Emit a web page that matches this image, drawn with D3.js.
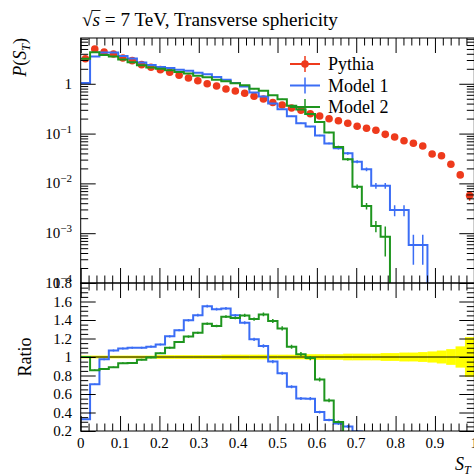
<!DOCTYPE html>
<html>
<head>
<meta charset="utf-8">
<script src="https://cdn.jsdelivr.net/npm/d3@7"></script>
<style>
body { margin: 0; background: #fff; }
svg text { font-family: "Liberation Serif", "DejaVu Serif", serif; fill: #000; }
</style>
</head>
<body>
<svg width="474" height="475"></svg>
<script>
///////////////////////////////////////////
// Data (transverse sphericity, 42 equal bins on [0,1])
var nBins = 42;
var binEdges = d3.range(nBins + 1).map(function(k) { return k / nBins; });

var pythia = [3.19, 5.00, 4.35, 3.97, 3.30, 2.91, 2.42, 2.14, 1.92, 1.70,
  1.48, 1.31, 1.15, 1.00, 0.903, 0.787, 0.717, 0.645, 0.561, 0.495,
  0.421, 0.375, 0.327, 0.294, 0.251, 0.226, 0.198, 0.181, 0.161, 0.140,
  0.128, 0.117, 0.0964, 0.0855, 0.0717, 0.0638, 0.0564, 0.0389, 0.0358, 0.0243,
  0.0148, 0.0057];
// relative uncertainties
var pythiaErr = [0.015, 0.015, 0.015, 0.015, 0.015, 0.015, 0.015, 0.015, 0.02, 0.02,
  0.02, 0.02, 0.02, 0.02, 0.02, 0.025, 0.025, 0.025, 0.025, 0.025,
  0.025, 0.025, 0.025, 0.025, 0.03, 0.03, 0.03, 0.03, 0.036, 0.036,
  0.036, 0.036, 0.042, 0.042, 0.048, 0.048, 0.053, 0.06, 0.07, 0.085,
  0.115, 0.215];

var model1 = [1.04, 3.53, 4.24, 4.25, 3.60, 3.20, 2.66, 2.38, 2.18, 2.08,
  1.91, 1.83, 1.67, 1.55, 1.37, 1.20, 1.04, 0.884, 0.668, 0.554,
  0.400, 0.309, 0.222, 0.162, 0.138, 0.0915, 0.0634, 0.0507, 0.0402, 0.0273,
  0.0192, 0.0090, 0.0090, 0.00292, 0.00292, 0.00058, 0.00058, 0, 0, 0,
  0, 0];
var model1Err = [0.01, 0.01, 0.01, 0.01, 0.01, 0.01, 0.01, 0.01, 0.01, 0.01,
  0.01, 0.01, 0.01, 0.01, 0.01, 0.01, 0.01, 0.012, 0.014, 0.016,
  0.018, 0.02, 0.024, 0.028, 0.03, 0.036, 0.042, 0.05, 0.06, 0.07,
  0.09, 0.13, 0.13, 0.25, 0.25, 0.6, 0.6, 0, 0, 0,
  0, 0];

var model2 = [3.19, 4.28, 3.78, 3.53, 3.08, 2.72, 2.35, 2.13, 2.00, 1.87,
  1.72, 1.60, 1.45, 1.36, 1.205, 1.13, 1.02, 0.935, 0.791, 0.723,
  0.585, 0.491, 0.363, 0.303, 0.248, 0.171, 0.105, 0.054, 0.0305, 0.0086,
  0.00352, 0.00140, 0.00085, 0, 0, 0, 0, 0, 0, 0,
  0, 0];
var model2Err = [0.01, 0.01, 0.01, 0.01, 0.01, 0.01, 0.01, 0.01, 0.01, 0.01,
  0.01, 0.01, 0.01, 0.01, 0.01, 0.01, 0.01, 0.012, 0.013, 0.014,
  0.015, 0.017, 0.02, 0.022, 0.024, 0.03, 0.038, 0.05, 0.065, 0.1,
  0.15, 0.25, 0.6, 0, 0, 0, 0, 0, 0, 0,
  0, 0];

var xTickLabels = ["0", "0.1", "0.2", "0.3", "0.4", "0.5", "0.6", "0.7", "0.8", "0.9", "1"];
var ratioTickLabels = ["0.2", "0.4", "0.6", "0.8", "1", "1.2", "1.4", "1.6", "1.8"];
var legendNames = ["Pythia", "Model 1", "Model 2"];

///////////////////////////////////////////
// Layout
var colRed = "#ee3a1c", colBlue = "#3b6df5", colGreen = "#1e951e";
var left = 80.7, right = 474.3,
    mainTop = 38, mainBot = 283, ratBot = 431;

var x = d3.scaleLinear().domain([0, 1]).range([left, right]);
var y = d3.scaleLog().domain([1e-4, 8.3]).range([mainBot, mainTop]);
var yr = d3.scaleLinear().domain([0.2, 1.8]).range([ratBot, mainBot]);

var svg = d3.select("svg");
var defs = svg.append("defs");
defs.append("clipPath").attr("id", "clipMain").append("rect")
  .attr("x", left).attr("y", mainTop).attr("width", right - left).attr("height", mainBot - mainTop);
defs.append("clipPath").attr("id", "clipRatio").append("rect")
  .attr("x", left).attr("y", mainBot).attr("width", right - left).attr("height", ratBot - mainBot);

var bins = pythia.map(function(p, i) {
  return {lo: binEdges[i], hi: binEdges[i + 1], mid: (binEdges[i] + binEdges[i + 1]) / 2,
          p: p, pe: pythiaErr[i]};
});

function stepPoints(vals, yf, floorY) {
  var pts = [];
  vals.forEach(function(v, i) {
    var yy = v > 0 ? yf(v) : floorY;
    pts.push([x(binEdges[i]), yy], [x(binEdges[i + 1]), yy]);
  });
  return pts;
}
var line = d3.line();

///////////////////////////////////////////
// Main panel
var gMain = svg.append("g").attr("clip-path", "url(#clipMain)");

// Pythia points
gMain.selectAll("line.perr").data(bins).enter().append("line")
  .attr("x1", function(d) { return x(d.mid); }).attr("x2", function(d) { return x(d.mid); })
  .attr("y1", function(d) { return y(d.p * (1 + d.pe)); })
  .attr("y2", function(d) { return y(d.p * (1 - d.pe)); })
  .attr("stroke", colRed).attr("stroke-width", 1.5);
gMain.selectAll("circle.pt").data(bins).enter().append("circle")
  .attr("cx", function(d) { return x(d.mid); })
  .attr("cy", function(d) { return y(d.p); })
  .attr("r", 3.8).attr("fill", colRed);

function drawModel(vals, errs, col) {
  gMain.append("path").attr("d", line(stepPoints(vals, y, mainBot + 20)))
    .attr("fill", "none").attr("stroke", col).attr("stroke-width", 2);
  vals.forEach(function(v, i) {
    if (v <= 0) return;
    var m = x((binEdges[i] + binEdges[i + 1]) / 2);
    var lo = v * (1 - errs[i]);
    gMain.append("line").attr("x1", m).attr("x2", m)
      .attr("y1", y(v * (1 + errs[i]))).attr("y2", lo > 0 ? y(lo) : mainBot + 5)
      .attr("stroke", col).attr("stroke-width", 1.5);
  });
}
drawModel(model1, model1Err, colBlue);
drawModel(model2, model2Err, colGreen);

///////////////////////////////////////////
// Ratio panel
var gRat = svg.append("g").attr("clip-path", "url(#clipRatio)");
gRat.selectAll("rect.band").data(bins).enter().append("rect")
  .attr("x", function(d) { return x(d.lo); })
  .attr("width", function(d) { return x(d.hi) - x(d.lo) + 0.3; })
  .attr("y", function(d) { return yr(1 + d.pe); })
  .attr("height", function(d) { return yr(1 - d.pe) - yr(1 + d.pe); })
  .attr("fill", "#ffff00");
gRat.append("line").attr("x1", left).attr("x2", right)
  .attr("y1", yr(1)).attr("y2", yr(1)).attr("stroke", "#000").attr("stroke-width", 1);

function drawRatio(vals, errs, col) {
  var r = vals.map(function(v, i) { return v / pythia[i]; });
  gRat.append("path").attr("d", line(stepPoints(r, yr, ratBot + 20)))
    .attr("fill", "none").attr("stroke", col).attr("stroke-width", 2);
  r.forEach(function(v, i) {
    if (v <= 0) return;
    var m = x((binEdges[i] + binEdges[i + 1]) / 2);
    gRat.append("line").attr("x1", m).attr("x2", m)
      .attr("y1", yr(v * (1 + errs[i]))).attr("y2", yr(v * (1 - errs[i])))
      .attr("stroke", col).attr("stroke-width", 1.5);
  });
}
drawRatio(model1, model1Err, colBlue);
drawRatio(model2, model2Err, colGreen);

///////////////////////////////////////////
// Frames and ticks
[[mainTop, mainBot], [mainBot, ratBot]].forEach(function(p) {
  svg.append("rect").attr("x", left).attr("y", p[0])
    .attr("width", right - left).attr("height", p[1] - p[0])
    .attr("fill", "none").attr("stroke", "#000").attr("stroke-width", 1);
});

var xMajor = d3.range(0, 11).map(function(i) { return i / 10; });
var xMinor = d3.range(0, 51).map(function(i) { return i / 50; })
  .filter(function(v, i) { return i % 5 !== 0; });
var logMajor = [1e-4, 1e-3, 1e-2, 1e-1, 1];
var logMinor = [];
logMajor.forEach(function(d) {
  for (var k = 2; k <= 9; k++) if (d * k < 8.3) logMinor.push(d * k);
});
var rMajor = [0.2, 0.4, 0.6, 0.8, 1, 1.2, 1.4, 1.6, 1.8];
var rMinor = d3.range(4, 37).map(function(i) { return i / 20; })
  .filter(function(v, i) { return i % 4 !== 0; });

function ticks(axis, tx, ty, vals, size) {
  var g = svg.append("g").attr("transform", "translate(" + tx + "," + ty + ")")
    .call(axis.tickValues(vals).tickSize(size).tickFormat(""));
  g.select(".domain").remove();
  g.selectAll(".tick line").attr("stroke", "#000").attr("stroke-width", 1);
}
ticks(d3.axisTop(x), 0, mainTop, xMajor, -15);
ticks(d3.axisTop(x), 0, mainTop, xMinor, -7.5);
ticks(d3.axisBottom(x), 0, mainBot, xMajor, -15);
ticks(d3.axisBottom(x), 0, mainBot, xMinor, -7.5);
ticks(d3.axisTop(x), 0, mainBot, xMajor, -15);
ticks(d3.axisTop(x), 0, mainBot, xMinor, -7.5);
ticks(d3.axisBottom(x), 0, ratBot, xMajor, -15);
ticks(d3.axisBottom(x), 0, ratBot, xMinor, -7.5);
ticks(d3.axisLeft(y), left, 0, logMajor, -15);
ticks(d3.axisLeft(y), left, 0, logMinor, -7.5);
ticks(d3.axisRight(y), right, 0, logMajor, -15);
ticks(d3.axisRight(y), right, 0, logMinor, -7.5);
ticks(d3.axisLeft(yr), left, 0, rMajor, -15);
ticks(d3.axisLeft(yr), left, 0, rMinor, -7.5);
ticks(d3.axisRight(yr), right, 0, rMajor, -15);
ticks(d3.axisRight(yr), right, 0, rMinor, -7.5);

///////////////////////////////////////////
// Tick labels
var fs = 15;
svg.selectAll("text.xl").data(xTickLabels).enter().append("text")
  .attr("x", function(d, i) { return x(xMajor[i]); }).attr("y", 448)
  .attr("text-anchor", "middle").attr("font-size", fs).text(function(d) { return d; });

svg.selectAll("text.rl").data(ratioTickLabels).enter().append("text")
  .attr("x", 72).attr("y", function(d, i) { return yr(rMajor[i]) + 5; })
  .attr("text-anchor", "end").attr("font-size", fs).text(function(d) { return d; });

logMajor.forEach(function(v) {
  var e = Math.round(Math.log10(v));
  var t = svg.append("text").attr("x", 72).attr("y", y(v) + 5)
    .attr("text-anchor", "end").attr("font-size", fs);
  if (e === 0) { t.text("1"); return; }
  t.append("tspan").text("10");
  t.append("tspan").attr("dy", -6).attr("font-size", 11).text("\u2212" + (-e));
});

///////////////////////////////////////////
// Titles and axis labels
var tfs = 19.2, tx0 = 82, ty0 = 26;
var rad = svg.append("text").attr("x", tx0).attr("y", ty0).attr("font-size", tfs).text("\u221A");
var wRad = rad.node().getComputedTextLength();
var sTxt = svg.append("text").attr("x", tx0 + wRad).attr("y", ty0).attr("font-size", tfs)
  .attr("font-style", "italic").text("s");
var wS = sTxt.node().getComputedTextLength();
svg.append("line").attr("x1", tx0 + wRad - 1).attr("x2", tx0 + wRad + wS + 0.5)
  .attr("y1", 10.5).attr("y2", 10.5).attr("stroke", "#000").attr("stroke-width", 0.9);
svg.append("text").attr("x", tx0 + wRad + wS).attr("y", ty0).attr("font-size", tfs)
  .text(" = 7 TeV, Transverse sphericity").attr("xml:space", "preserve");

var yl = svg.append("text").attr("transform", "translate(26," + mainTop + ") rotate(-90)")
  .attr("text-anchor", "end").attr("font-size", 18);
yl.append("tspan").attr("font-style", "italic").text("P");
yl.append("tspan").text("(");
yl.append("tspan").attr("font-style", "italic").text("S");
yl.append("tspan").attr("font-style", "italic").attr("font-size", 12).attr("dy", 4).text("T");
yl.append("tspan").attr("dy", -4).text(")");

svg.append("text").attr("transform", "translate(31," + yr(1) + ") rotate(-90)")
  .attr("text-anchor", "middle").attr("font-size", 18).text("Ratio");

var xl = svg.append("text").attr("x", 455).attr("y", 470).attr("font-size", 18);
xl.append("tspan").attr("font-style", "italic").text("S");
xl.append("tspan").attr("font-style", "italic").attr("font-size", 12).attr("dy", 4).text("T");

///////////////////////////////////////////
// Legend
var legCols = [colRed, colBlue, colGreen];
var leg = svg.append("g");
legendNames.forEach(function(name, i) {
  var cy = 64 + i * 21.5;
  leg.append("line").attr("x1", 290).attr("x2", 320).attr("y1", cy).attr("y2", cy)
    .attr("stroke", legCols[i]).attr("stroke-width", 2);
  leg.append("line").attr("x1", 305).attr("x2", 305).attr("y1", cy - 8).attr("y2", cy + 8)
    .attr("stroke", legCols[i]).attr("stroke-width", 1.5);
  if (i === 0) leg.append("circle").attr("cx", 305).attr("cy", cy).attr("r", 3.8).attr("fill", colRed);
  leg.append("text").attr("x", 328).attr("y", cy + 6).attr("font-size", 18).text(name);
});
</script>
</body>
</html>
